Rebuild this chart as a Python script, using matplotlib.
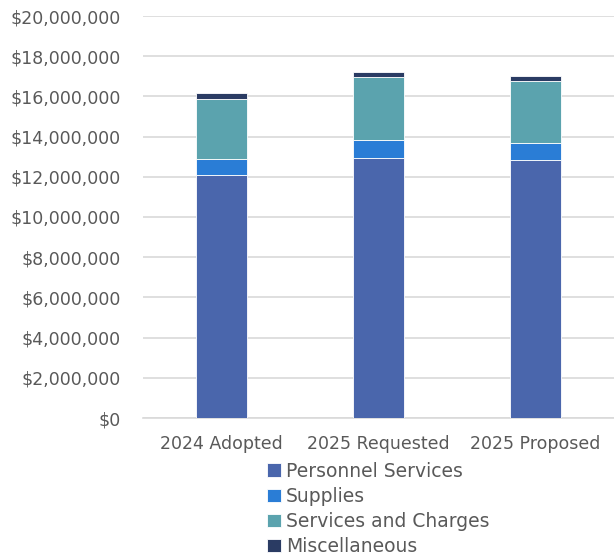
import matplotlib.pyplot as plt
import numpy as np
from matplotlib.ticker import FuncFormatter

categories = ["2024 Adopted", "2025 Requested", "2025 Proposed"]
personnel = [12090000, 12920000, 12820000]
supplies = [810000, 930000, 850000]
services = [2980000, 3120000, 3100000]
misc = [270000, 230000, 230000]

series = [("Personnel Services", personnel, "#4A66AC"),
          ("Supplies", supplies, "#2A7DD6"),
          ("Services and Charges", services, "#5BA3AE"),
          ("Miscellaneous", misc, "#2A3B63")]

plt.rcParams['font.family'] = ['DejaVu Sans']
txt = "#595959"

fig = plt.figure(figsize=(6.14, 5.56), dpi=100)
ax = fig.add_axes([143/614, 1 - 418/556, 471/614, 402/556])

x = np.arange(len(categories))
bottom = np.zeros(len(categories))
for name, vals, col in series:
    ax.bar(x, vals, 0.32, bottom=bottom, color=col, label=name,
           edgecolor="white", linewidth=0.6, zorder=3)
    bottom += np.array(vals)

ax.set_xlim(-0.5, 2.5)
ax.set_ylim(0, 20000000)
ax.set_yticks(np.arange(0, 20000001, 2000000))
ax.yaxis.set_major_formatter(FuncFormatter(lambda v, p: "${:,.0f}".format(v)))
ax.set_xticks(x)
ax.set_xticklabels(categories)
ax.grid(axis="y", color="#D9D9D9", linewidth=1.2, zorder=0)
for s in ["top", "right", "left"]:
    ax.spines[s].set_visible(False)
ax.spines["bottom"].set_color("#D9D9D9")
ax.spines["bottom"].set_linewidth(1.2)
ax.tick_params(axis="both", length=0, labelsize=12.5, colors=txt)
ax.tick_params(axis="x", pad=12)
ax.tick_params(axis="y", pad=16)

ax.legend(loc="upper center", bbox_to_anchor=(0.5, -0.085), ncol=1, frameon=False,
          fontsize=13.5, labelcolor=txt, handlelength=0.7, handleheight=0.7,
          handletextpad=0.3, labelspacing=0.33, borderpad=0)

fig.savefig("out.png", dpi=100)
